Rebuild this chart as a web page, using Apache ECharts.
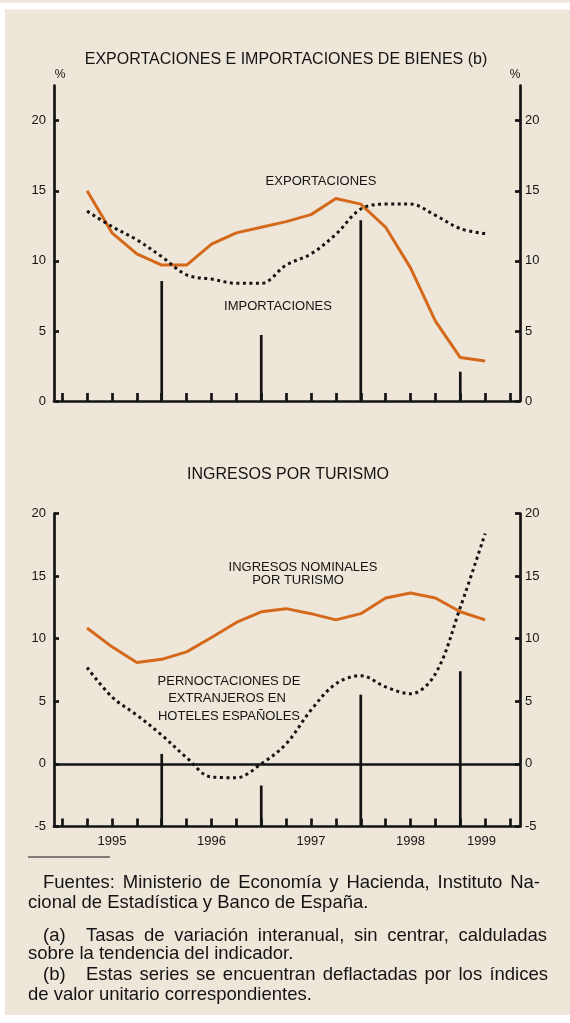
<!DOCTYPE html>
<html>
<head>
<meta charset="utf-8">
<script src="https://cdn.jsdelivr.net/npm/echarts@6/dist/echarts.min.js"></script>
<style>
html,body{margin:0;padding:0;background:#ffffff;}
#chart{width:570px;height:1023px;}
</style>
</head>
<body>
<div id="chart"></div>
<script>
// ---- data (quarter index 1 = 1995 Q1 ... 17 = 1999 Q1) ----
var quarterIdx = [1,2,3,4,5,6,7,8,9,10,11,12,13,14,15,16,17];
var exportaciones = [15.0, 12.0, 10.5, 9.7, 9.7, 11.2, 12.0, 12.4, 12.8, 13.3, 14.45, 14.05, 12.4, 9.5, 5.7, 3.1, 2.85];
var importaciones = [13.55, 12.45, 11.5, 10.3, 9.0, 8.7, 8.4, 8.4, 9.7, 10.5, 11.9, 13.7, 14.05, 14.05, 13.25, 12.3, 11.95];
var ingresosNominales = [10.85, 9.35, 8.1, 8.35, 8.95, 10.1, 11.3, 12.15, 12.4, 12.0, 11.5, 12.0, 13.25, 13.65, 13.25, 12.15, 11.5];
var pernoctaciones = [7.7, 5.35, 3.9, 2.3, 0.5, -1.05, -1.1, 0.0, 1.6, 4.3, 6.4, 7.05, 6.15, 5.6, 7.2, 12.5, 18.4];
var spikeIdx = [4, 8, 12, 16];
var spikesTop = [8.56, 4.71, 12.9, 2.09];
var spikesBottom = [0.8, -1.73, 5.53, 7.4];
var tickValues = [0,1,2,3,4,5,6,7,8,9,10,11,12,13,14,15,16,17,18];
var yearLabels = ['1995','1996','1997','1998','1999'];
var yearLabelPos = [2, 6, 10, 14, 16.85];
var yTicksTop = [0,5,10,15,20];
var yTicksBottom = [-5,0,5,10,15,20];

function pairs(xs, ys){ return xs.map(function(x,i){ return [x, ys[i]]; }); }

var FONT = "'Liberation Sans', Arial, Helvetica, sans-serif";
var BLACK = '#141414';
var ORANGE = '#D5691B';
var BG = '#EEE6D8';
var AXW = 2.7;

function spikeSeries(xAxisIndex, yAxisIndex, vals, base){
  return {
    type: 'custom', xAxisIndex: xAxisIndex, yAxisIndex: yAxisIndex, silent: true, z: 3,
    data: pairs(spikeIdx, vals),
    renderItem: function(params, api){
      var p0 = api.coord([api.value(0), base]);
      var p1 = api.coord([api.value(0), api.value(1)]);
      return {type:'line', shape:{x1:p0[0], y1:p0[1], x2:p1[0], y2:p1[1]},
              style:{stroke: BLACK, lineWidth: AXW}};
    }
  };
}

function xAxisCfg(gridIndex, withLabels){
  return {
    type:'value', gridIndex: gridIndex, min: -0.33, max: 18.4,
    axisLine:{show:true, onZero:false, lineStyle:{color:BLACK, width:AXW}},
    axisTick:{show:true, inside:true, length:8, customValues: tickValues, lineStyle:{color:BLACK, width:AXW}},
    axisLabel: withLabels ? {
      show:true, customValues: yearLabelPos, margin: 8, color: BLACK,
      fontFamily: FONT, fontSize: 13,
      formatter: function(v){ var k = yearLabelPos.indexOf(v); return k >= 0 ? yearLabels[k] : ''; }
    } : {show:false},
    splitLine:{show:false}
  };
}

function yAxisCfg(gridIndex, pos, min, max, ticks){
  return {
    type:'value', gridIndex: gridIndex, position: pos, min: min, max: max,
    axisLine:{show:true, onZero:false, lineStyle:{color:BLACK, width:AXW}},
    axisTick:{show:true, inside:true, length:5, customValues: ticks, lineStyle:{color:BLACK, width:AXW}},
    axisLabel:{show:true, customValues: ticks, margin: pos === 'left' ? 8 : 5, color: BLACK, fontFamily: FONT, fontSize: 13},
    splitLine:{show:false}
  };
}

function txt(x, y, s, size, align){
  return {type:'text', x:x, y:y, z:10, style:{text:s, fill:BLACK, font: size + 'px ' + FONT, align: align || 'center', verticalAlign:'middle'}};
}

// justified text line: words spread between x0 and x1 (widths measured by canvas)
var measureCtx = document.createElement('canvas').getContext('2d');
function justified(str, x0, x1, y, size){
  measureCtx.font = size + 'px ' + FONT;
  var words = str.split(' ');
  var widths = words.map(function(w){ return measureCtx.measureText(w).width; });
  var total = widths.reduce(function(a,b){ return a+b; }, 0);
  var gap = (x1 - x0 - total) / (words.length - 1);
  var out = [], x = x0;
  for (var i = 0; i < words.length; i++){
    out.push(txt(x, y, words[i], size, 'left'));
    x += widths[i] + gap;
  }
  return out;
}

var FS = 18.5;
var graphics = [
  {type:'rect', z:-100, shape:{x:0, y:0, width:570, height:2.7}, style:{fill:BG}},
  {type:'rect', z:-100, shape:{x:5, y:9.5, width:565, height:1005.5}, style:{fill:BG}},
  txt(286, 60, 'EXPORTACIONES E IMPORTACIONES DE BIENES (b)', 16),
  txt(60, 75, '%', 12),
  txt(515, 75, '%', 12),
  txt(321, 181, 'EXPORTACIONES', 13),
  txt(278, 306, 'IMPORTACIONES', 13),
  txt(288, 475, 'INGRESOS POR TURISMO', 16),
  txt(303, 567, 'INGRESOS NOMINALES', 13),
  txt(298, 580, 'POR TURISMO', 13),
  txt(229, 681, 'PERNOCTACIONES DE', 13),
  txt(227, 698, 'EXTRANJEROS EN', 13),
  txt(229, 716, 'HOTELES ESPAÑOLES', 13),
  {type:'line', z:10, shape:{x1:28, y1:857, x2:110, y2:857}, style:{stroke:BLACK, lineWidth:1}},
  txt(28, 903, 'cional de Estadística y Banco de España.', FS, 'left'),
  txt(43, 936, '(a)', FS, 'left'),
  txt(28, 954, 'sobre la tendencia del indicador.', FS, 'left'),
  txt(43, 975, '(b)', FS, 'left'),
  txt(28, 995, 'de valor unitario correspondientes.', FS, 'left')
];
graphics = graphics
  .concat(justified('Fuentes: Ministerio de Economía y Hacienda, Instituto Na-', 43, 540, 883, FS))
  .concat(justified('Tasas de variación interanual, sin centrar, calduladas', 86, 547, 936, FS))
  .concat(justified('Estas series se encuentran deflactadas por los índices', 86, 548, 975, FS));

var chart = echarts.init(document.getElementById('chart'), null, {renderer:'canvas'});
chart.setOption({
  backgroundColor: '#ffffff',
  animation: false,
  grid: [
    {left: 54, right: 50, top: 85.7, height: 315.3},
    {left: 54, right: 50, top: 513.5, height: 313}
  ],
  xAxis: [ xAxisCfg(0, false), xAxisCfg(1, true) ],
  yAxis: [
    yAxisCfg(0, 'left', 0, 22.5, yTicksTop),
    yAxisCfg(0, 'right', 0, 22.5, yTicksTop),
    yAxisCfg(1, 'left', -5, 20, yTicksBottom),
    yAxisCfg(1, 'right', -5, 20, yTicksBottom)
  ],
  graphic: graphics,
  series: [
    spikeSeries(0, 0, spikesTop, 0),
    {type:'line', name:'Exportaciones', xAxisIndex:0, yAxisIndex:0, data: pairs(quarterIdx, exportaciones),
     symbol:'none', lineStyle:{color:ORANGE, width:3}, z:4},
    {type:'line', name:'Importaciones', xAxisIndex:0, yAxisIndex:0, data: pairs(quarterIdx, importaciones),
     symbol:'none', smooth:0.35, lineStyle:{color:BLACK, width:3, type:[3,3.5]}, z:5},
    spikeSeries(1, 2, spikesBottom, -5),
    {type:'line', name:'Ingresos nominales por turismo', xAxisIndex:1, yAxisIndex:2, data: pairs(quarterIdx, ingresosNominales),
     symbol:'none', lineStyle:{color:ORANGE, width:3}, z:4,
     markLine:{silent:true, symbol:'none', label:{show:false}, lineStyle:{color:BLACK, width:AXW, type:'solid'}, data:[{yAxis:0}]}},
    {type:'line', name:'Pernoctaciones', xAxisIndex:1, yAxisIndex:2, data: pairs(quarterIdx, pernoctaciones),
     symbol:'none', smooth:0.35, lineStyle:{color:BLACK, width:3, type:[3,3.5]}, z:5}
  ]
});
</script>
</body>
</html>
